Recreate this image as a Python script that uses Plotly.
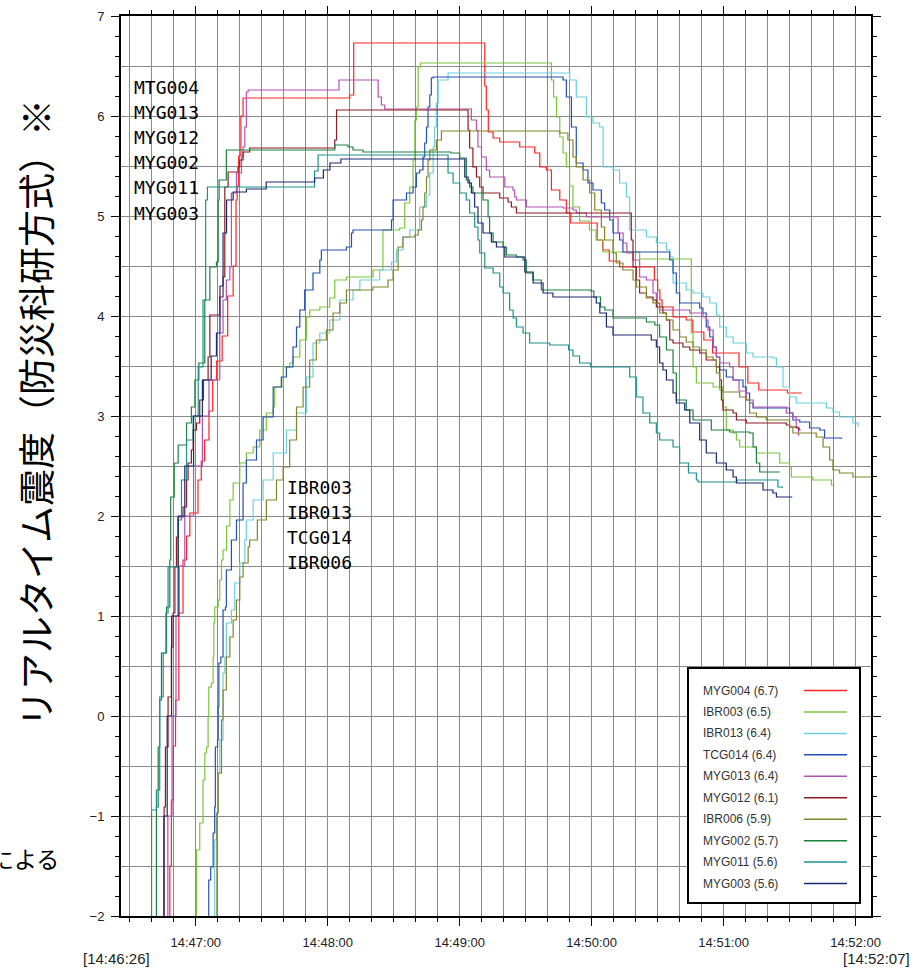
import plotly.graph_objects as go

# ---- data: (seconds after 14:46:00, real-time intensity) ----
MYG004 = [(47.4,-2.6),(48.2,-1.5),(48.9,-0.84),(49.8,-0.3),(50.8,0.16),(52.3,1.03),(54.2,1.56),(55.8,1.8),
          (57.3,2.03),(61.0,2.36),(62.5,2.55),(64.0,2.76),(66.0,3.05),(67.7,3.36),(69.5,3.55),(72.0,3.8),
          (74.5,4.2),(77.0,4.5),(78.3,5.16),(78.8,5.3),(79.5,5.6),(80.5,6.0),(81.5,6.18),(130.0,6.21),
          (131.8,6.73),(191.4,6.3),(192.1,6.06),(193.0,5.84),(195.2,5.78),(198.2,5.74),(207.3,5.69),
          (214.1,5.63),(216.4,5.49),(219.4,5.46),(221.7,5.26),(225.5,5.16),(228.5,5.03),(230.5,4.93),
          (242.5,4.76),(245.0,4.66),(248.0,4.55),(252.7,4.49),(268.5,4.36),(270.0,4.26),(271.0,4.16),
          (272.0,4.09),(277.0,3.99),(283.0,3.96),(286.0,3.84),(291.0,3.76),(295.0,3.63),(307.0,3.49),
          (311.0,3.33),(316.0,3.26),(329.0,3.23),(335.5,3.23)]
IBR003 = [(59.6,-2.6),(60.3,-1.34),(61.8,-1.07),(63.3,-0.64),(64.1,-0.37),(64.9,-0.31),(65.6,-0.01),
          (65.9,0.29),(67.1,0.33),(67.9,0.59),(68.2,0.93),(68.6,1.09),(70.2,1.16),(70.9,1.36),(71.7,1.56),
          (72.4,1.66),(74.0,1.9),(75.5,2.16),(77.0,2.33),(80.0,2.53),(83.0,2.63),(86.1,2.69),(89.1,2.86),
          (92.1,3.03),(95.2,3.09),(95.9,3.29),(99.7,3.49),(102.7,3.53),(104.2,3.59),(107.3,3.76),
          (110.3,3.99),(111.8,4.06),(116.4,4.09),(120.9,4.18),(123.2,4.36),(128.5,4.39),(140.6,4.46),
          (145.1,4.86),(152.7,4.88),(155.0,5.13),(157.3,5.29),(158.8,5.56),(159.6,5.96),(160.3,6.09),
          (161.1,6.49),(162.1,6.53),(221.7,6.36),(222.7,6.19),(224.0,5.99),(225.5,5.79),(227.0,5.63),
          (228.5,5.49),(230.0,5.3),(231.5,5.09),(234.5,4.95),(239.0,4.86),(242.0,4.76),(245.2,4.64),
          (261.8,4.57),(285.3,3.83),(286.1,3.49),(287.6,3.33),(295.2,3.29),(298.2,3.26),(299.7,3.09),
          (301.2,2.86),(304.3,2.83),(305.8,2.76),(307.3,2.69),(314.9,2.63),(325.5,2.53),(330.0,2.49),
          (330.8,2.39),(340.6,2.36),(349.0,2.31),(349.7,2.31)]
IBR013 = [(67.1,-2.6),(68.6,-1.24),(69.4,-0.97),(70.2,-0.57),(70.9,-0.24),(72.4,0.43),(73.2,0.59),
          (73.9,0.93),(76.2,1.06),(77.7,1.33),(80.0,1.53),(82.3,1.76),(83.0,1.96),(86.1,2.16),(90.6,2.36),
          (95.2,2.63),(101.2,2.86),(105.8,3.03),(110.3,3.39),(113.3,3.73),(116.4,3.83),(120.9,3.96),
          (125.5,4.16),(131.5,4.26),(134.6,4.36),(143.6,4.46),(149.0,4.54),(151.2,4.66),(154.2,4.79),
          (157.3,4.86),(161.8,5.09),(164.9,5.21),(166.4,5.43),(167.9,5.69),(168.6,5.89),(169.4,6.13),
          (170.2,6.36),(174.7,6.43),(230.0,6.36),(233.0,6.19),(237.6,5.99),(240.6,5.93),(243.6,5.89),
          (245.2,5.49),(249.7,5.46),(252.7,5.33),(255.8,5.19),(257.3,4.86),(264.9,4.79),(269.4,4.73),
          (274.0,4.66),(275.5,4.59),(277.0,4.33),(283.0,4.26),(286.1,4.23),(290.6,4.19),(293.7,4.13),
          (296.7,4.01),(298.2,3.89),(301.2,3.79),(304.3,3.73),(310.3,3.63),(313.4,3.59),(322.4,3.58),
          (324.0,3.49),(327.0,3.29),(330.0,3.19),(333.0,3.13),(346.7,3.08),(349.7,3.04),(352.7,2.99),
          (358.8,2.93),(361.1,2.9),(361.5,2.9)]
TCG014 = [(65.3,-2.6),(65.9,-1.64),(66.8,-1.51),(67.9,-1.17),(68.6,-0.91),(68.9,-0.31),(69.9,-0.24),
          (70.2,0.09),(70.5,0.53),(71.4,0.59),(72.4,1.06),(73.5,1.09),(73.9,1.46),(76.2,1.76),(78.5,1.96),
          (81.5,2.33),(83.0,2.56),(87.6,2.76),(90.6,2.99),(95.2,3.29),(98.9,3.39),(101.2,3.49),
          (104.2,3.69),(105.8,3.89),(107.3,4.06),(109.5,4.26),(113.3,4.43),(116.4,4.56),(117.1,4.66),
          (128.5,4.69),(130.8,4.83),(131.5,4.86),(149.0,4.96),(149.7,5.16),(155.8,5.23),(158.8,5.29),
          (160.3,5.43),(161.8,5.46),(163.3,5.59),(164.1,5.73),(164.9,5.89),(165.6,6.09),(166.4,6.21),
          (167.1,6.38),(167.9,6.39),(227.0,6.36),(228.5,6.19),(230.8,5.89),(233.0,5.53),(236.1,5.46),
          (238.3,5.33),(240.6,5.26),(244.4,5.13),(245.9,5.06),(248.2,4.96),(249.7,4.83),(252.7,4.76),
          (254.2,4.64),(275.5,4.56),(277.0,4.43),(278.5,4.23),(280.0,4.13),(289.1,4.08),(290.6,4.03),
          (292.1,3.89),(293.7,3.79),(295.2,3.69),(296.7,3.59),(298.2,3.46),(301.2,3.39),(304.3,3.36),
          (308.8,3.29),(310.3,3.23),(311.8,3.13),(313.4,3.08),(330.0,3.03),(331.5,2.96),(334.6,2.94),
          (339.1,2.88),(343.7,2.86),(345.9,2.78),(353.5,2.77)]
MYG013 = [(46.0,-2.6),(47.3,-1.0),(49.2,0.0),(51.0,1.0),(52.5,1.5),(55.0,2.0),(59.0,2.5),(63.0,3.0),
          (66.0,3.36),(70.9,3.83),(72.4,4.16),(73.9,4.36),(75.5,4.49),(76.2,5.23),(78.5,5.43),(80.8,5.59),
          (81.5,5.69),(82.3,5.89),(83.0,6.24),(83.8,6.26),(125.1,6.36),(142.9,6.19),(144.4,6.11),
          (145.9,6.07),(185.3,5.96),(187.6,5.86),(188.3,5.69),(189.9,5.59),(192.1,5.46),(193.6,5.39),
          (200.5,5.29),(204.2,5.26),(205.0,5.19),(205.8,5.16),(210.3,5.09),(227.0,5.08),(231.5,5.06),
          (233.0,5.03),(237.6,4.99),(252.0,4.83),(254.3,4.73),(256.0,4.63),(258.8,4.56),(261.8,4.39),
          (264.9,4.36),(267.9,4.23),(269.4,4.13),(270.9,4.06),(284.6,4.03),(290.6,3.99),(292.1,3.96),
          (292.9,3.86),(295.2,3.69),(296.7,3.59),(298.2,3.53),(302.7,3.49),(304.3,3.36),(307.0,3.25),
          (310.3,3.16),(313.4,3.09),(328.5,3.03),(331.5,2.99),(333.0,2.89),(334.0,2.81),(334.6,2.81)]
MYG012 = [(45.2,-2.6),(45.6,-0.91),(46.2,-0.31),(47.4,0.19),(48.9,0.69),(49.7,1.03),(50.5,1.49),
          (51.2,1.79),(52.0,1.99),(54.2,2.09),(55.8,2.36),(56.5,2.53),(58.0,2.66),(58.8,2.86),(60.3,2.93),
          (61.8,3.16),(63.5,3.36),(65.6,3.59),(66.4,4.01),(70.9,4.19),(72.4,4.39),(73.2,5.29),(74.7,5.44),
          (79.2,5.49),(80.0,5.56),(81.5,5.64),(84.5,5.68),(123.2,5.76),(124.0,6.06),(183.8,5.86),
          (184.5,5.68),(186.0,5.49),(187.6,5.39),(189.1,5.29),(190.6,5.23),(198.2,5.18),(202.0,5.14),
          (203.5,5.09),(205.8,5.03),(258.0,4.76),(258.8,4.49),(260.3,4.36),(261.8,4.23),(264.9,4.19),
          (267.9,4.16),(269.4,4.09),(272.4,4.03),(274.0,3.96),(275.5,3.76),(277.0,3.73),(281.5,3.69),
          (284.6,3.66),(289.1,3.63),(292.1,3.56),(296.7,3.49),(298.2,3.36),(299.0,3.16),(299.7,3.06),
          (304.3,3.03),(305.8,2.96),(310.3,2.93),(328.5,2.91),(330.0,2.89),(333.0,2.88),(334.3,2.86),
          (335.0,2.86)]
IBR006 = [(69.3,-2.6),(69.6,-0.97),(70.2,-0.57),(71.7,-0.04),(72.4,0.26),(73.9,0.59),(75.5,0.79),
          (77.0,0.96),(78.5,1.16),(80.0,1.39),(81.5,1.53),(83.8,1.69),(84.5,1.76),(88.0,1.96),(92.1,2.16),
          (96.7,2.36),(99.7,2.49),(102.7,2.76),(105.8,3.09),(108.8,3.29),(111.8,3.56),(114.8,3.76),
          (119.4,3.86),(122.4,4.03),(125.5,4.13),(128.5,4.26),(140.6,4.29),(147.4,4.36),(149.7,4.46),
          (152.0,4.69),(154.2,4.79),(159.6,4.81),(161.1,4.86),(162.6,4.96),(163.3,5.09),(164.1,5.23),
          (164.9,5.39),(165.6,5.56),(166.4,5.66),(169.4,5.76),(171.7,5.85),(225.5,5.83),(229.2,5.76),
          (231.5,5.59),(233.0,5.49),(236.1,5.36),(239.1,5.23),(241.4,5.06),(244.4,4.89),(245.9,4.76),
          (249.7,4.63),(251.2,4.53),(254.2,4.46),(258.8,4.36),(260.3,4.29),(264.9,4.18),(267.9,4.13),
          (270.9,4.03),(274.0,3.96),(277.0,3.86),(280.0,3.79),(283.0,3.74),(286.1,3.69),(289.1,3.66),
          (292.1,3.59),(295.2,3.56),(296.7,3.43),(298.2,3.29),(299.7,3.24),(307.3,3.19),(310.3,3.16),
          (311.8,3.03),(314.9,2.99),(319.4,2.96),(330.0,2.89),(331.5,2.83),(342.1,2.79),(345.2,2.69),
          (348.2,2.56),(349.7,2.46),(352.7,2.43),(358.8,2.39),(370.0,2.36)]
MYG002 = [(41.0,-2.6),(42.1,-0.91),(42.9,-0.31),(43.6,0.16),(44.4,0.63),(46.7,1.09),(48.2,1.56),
          (48.6,2.19),(50.2,2.53),(52.0,2.71),(55.8,2.93),(58.0,3.09),(59.6,3.36),(61.4,3.53),(64.1,4.16),
          (66.4,4.49),(69.4,4.54),(70.2,5.16),(70.6,5.36),(73.9,5.66),(123.2,5.71),(129.2,5.69),
          (131.5,5.66),(136.0,5.64),(176.0,5.63),(180.0,5.58),(183.0,5.36),(184.5,5.29),(186.0,5.23),
          (190.6,5.16),(192.9,4.99),(193.6,4.83),(195.2,4.74),(199.7,4.69),(201.2,4.61),(205.8,4.59),
          (208.8,4.56),(210.3,4.43),(213.3,4.36),(217.1,4.26),(239.5,4.25),(241.0,4.19),(244.0,4.09),
          (246.0,4.06),(249.7,3.98),(264.9,3.94),(268.7,3.91),(270.9,3.79),(274.0,3.66),(277.0,3.43),
          (278.5,3.16),(283.0,3.06),(286.1,2.96),(294.4,2.86),(302.7,2.84),(311.8,2.83),(313.4,2.69),
          (314.9,2.53),(316.4,2.44),(325.5,2.44)]
MYG011 = [(39.5,-2.6),(39.9,-0.94),(42.1,-0.74),(43.6,0.19),(45.2,0.63),(46.4,1.03),(47.4,1.49),
          (52.0,1.96),(53.5,2.36),(55.8,2.76),(58.8,3.0),(61.1,3.49),(63.3,4.16),(64.5,5.16),(65.3,5.29),
          (114.0,5.45),(115.6,5.61),(174.7,5.43),(177.0,5.33),(180.0,5.23),(183.0,5.16),(184.5,5.03),
          (186.8,4.89),(188.3,4.76),(189.1,4.63),(191.4,4.48),(195.2,4.43),(198.2,4.29),(199.7,4.23),
          (202.7,4.06),(204.3,3.98),(205.8,3.89),(208.8,3.83),(211.8,3.73),(220.9,3.71),(229.5,3.66),
          (231.5,3.6),(234.5,3.53),(239.5,3.49),(257.3,3.39),(260.3,3.19),(263.3,3.03),(266.4,2.93),
          (269.4,2.83),(270.9,2.76),(277.0,2.69),(280.0,2.53),(284.0,2.43),(287.6,2.36),(288.4,2.34),
          (306.0,2.36),(324.7,2.29),(326.7,2.28)]
MYG003 = [(44.0,-2.6),(45.5,-1.0),(47.0,0.0),(49.0,1.0),(52.0,2.0),(55.0,2.5),(59.0,3.0),(63.0,3.36),
          (67.0,3.6),(69.4,3.83),(71.0,4.3),(72.4,4.83),(74.0,5.16),(77.0,5.24),(83.0,5.27),(92.0,5.34),
          (114.0,5.38),(118.0,5.46),(121.0,5.53),(126.0,5.57),(182.3,5.39),(183.8,5.33),(185.3,5.23),
          (186.8,5.09),(188.3,4.93),(190.6,4.83),(194.4,4.74),(196.7,4.69),(200.5,4.59),(209.6,4.44),
          (213.4,4.33),(217.9,4.23),(222.4,4.19),(242.1,4.13),(243.7,4.03),(246.7,3.89),(249.7,3.81),
          (267.1,3.76),(269.4,3.69),(270.9,3.53),(272.4,3.46),(274.0,3.36),(277.0,3.23),(278.5,3.13),
          (282.3,3.06),(284.6,2.93),(289.1,2.76),(292.1,2.63),(296.7,2.53),(301.2,2.46),(304.3,2.39),
          (305.8,2.33),(317.9,2.26),(322.4,2.23),(324.0,2.19),(331.2,2.19)]

NAMES = ["MYG004", "IBR003", "IBR013", "TCG014", "MYG013", "MYG012", "IBR006", "MYG002", "MYG011", "MYG003"]
PEAKS = [6.7, 6.5, 6.4, 6.4, 6.4, 6.1, 5.9, 5.7, 5.6, 5.6]
SERIES = [MYG004, IBR003, IBR013, TCG014, MYG013, MYG012, IBR006, MYG002, MYG011, MYG003]
COLORS = ["#ff2424", "#7cc63c", "#6ccfe0", "#2450b4", "#b452b4", "#8e1c24",
          "#84842a", "#1c8240", "#1c9290", "#1c2a70"]

TICK_SECONDS = [60, 120, 180, 240, 300, 360]
TICK_TEXT = ["14:47:00", "14:48:00", "14:49:00", "14:50:00", "14:51:00", "14:52:00"]
X_RANGE = [26, 367]
START_LABEL = "[14:46:26]"
END_LABEL = "[14:52:07]"

LEFT_LABELS = ["MTG004", "MYG013", "MYG012", "MYG002", "MYG011", "MYG003"]
RIGHT_LABELS = ["IBR003", "IBR013", "TCG014", "IBR006"]
Y_TITLE = "リアルタイム震度（防災科研方式）※"

W, H = 917, 968
ML, MR, MT, MB = 121, 46, 16, 52
PW, PH = W - ML - MR, H - MT - MB


def px_x(px):
    return (px - ML) / PW


def px_y(py):
    return 1 - (py - MT) / PH


fig = go.Figure()
for name, data, col in zip(NAMES, SERIES, COLORS):
    fig.add_trace(go.Scatter(
        x=[p[0] for p in data], y=[p[1] for p in data], mode="lines",
        line=dict(color=col, width=1.2, shape="hv"), name=name, showlegend=False,
        cliponaxis=True))

# overlay axis that only provides the half-step horizontal grid lines
fig.add_trace(go.Scatter(x=[None], y=[None], yaxis="y2", showlegend=False, hoverinfo="skip"))

GRID = "#8a8a8a"
tickfont = dict(family="Liberation Sans, Arial", size=13, color="#222")

fig.update_layout(
    width=W, height=H, margin=dict(l=ML, r=MR, t=MT, b=MB, autoexpand=False),
    paper_bgcolor="white", plot_bgcolor="white", showlegend=False,
    xaxis=dict(range=X_RANGE, tickvals=TICK_SECONDS, ticktext=TICK_TEXT, ticks="outside",
               ticklen=8, tickwidth=1, tickcolor="black", showgrid=True, gridcolor=GRID,
               gridwidth=1, showline=True, linecolor="black", linewidth=2, mirror="ticks",
               zeroline=False, tickfont=tickfont, ticklabelstandoff=5,
               minor=dict(dtick=10, tick0=0, ticks="outside", ticklen=4, tickcolor="black",
                          showgrid=True, gridcolor=GRID, gridwidth=1)),
    yaxis=dict(range=[-2, 7], dtick=1, tick0=0, ticks="outside", ticklen=8, tickwidth=1,
               tickcolor="black", showgrid=True, gridcolor=GRID, gridwidth=1, showline=True,
               linecolor="black", linewidth=2, mirror="ticks", zeroline=False, tickfont=tickfont,
               ticklabelstandoff=4,
               minor=dict(dtick=0.2, tick0=0, ticks="outside", ticklen=4, tickcolor="black",
                          showgrid=False)),
    yaxis2=dict(range=[-2, 7], overlaying="y", side="left", dtick=1, tick0=0.5, showgrid=True,
                gridcolor=GRID, gridwidth=1, showticklabels=False, ticks="", showline=False,
                zeroline=False),
)

anns = []
# station labels in the plot
for i, lab in enumerate(LEFT_LABELS):
    anns.append(dict(x=30.8, y=6.29 - 0.252 * i, xref="x", yref="y", text=lab, showarrow=False,
                     xanchor="left", yanchor="middle",
                     font=dict(family="DejaVu Sans Mono", size=18, color="black")))
for i, lab in enumerate(RIGHT_LABELS):
    anns.append(dict(x=100.6, y=2.29 - 0.25 * i, xref="x", yref="y", text=lab, showarrow=False,
                     xanchor="left", yanchor="middle",
                     font=dict(family="DejaVu Sans Mono", size=18, color="black")))

# y title
anns.append(dict(x=px_x(35), y=px_y(413), xref="paper", yref="paper", text=Y_TITLE,
                 textangle=-90, showarrow=False, xanchor="center", yanchor="middle",
                 font=dict(family="Noto Sans CJK JP", size=37, color="black")))
anns.append(dict(x=px_x(61), y=px_y(858), xref="paper", yref="paper", text="による",
                 showarrow=False, xanchor="right", yanchor="middle",
                 font=dict(family="Noto Sans CJK JP", size=23, color="black")))
# start / end time labels
anns.append(dict(x=0, y=px_y(959), xref="paper", yref="paper", text=START_LABEL, showarrow=False,
                 xanchor="center", yanchor="middle", xshift=-5,
                 font=dict(family="Liberation Sans, Arial", size=15, color="#222")))
anns.append(dict(x=1, y=px_y(959), xref="paper", yref="paper", text=END_LABEL, showarrow=False,
                 xanchor="center", yanchor="middle", xshift=5,
                 font=dict(family="Liberation Sans, Arial", size=15, color="#222")))

# custom legend: text on the left, line sample on the right
shapes = [dict(type="rect", xref="paper", yref="paper", x0=px_x(688), x1=px_x(860),
               y0=px_y(903), y1=px_y(668), line=dict(color="black", width=2),
               fillcolor="white", layer="above")]
ROW0, ROWSTEP = 690.5, 21.45
for i, (name, pk, col) in enumerate(zip(NAMES, PEAKS, COLORS)):
    yy = px_y(ROW0 + ROWSTEP * i)
    anns.append(dict(x=px_x(701), y=yy, xref="paper", yref="paper", text=f"{name} ({pk})",
                     showarrow=False, xanchor="left", yanchor="middle",
                     font=dict(family="Liberation Sans, Arial", size=12, color="#333")))
    shapes.append(dict(type="line", xref="paper", yref="paper", x0=px_x(804), x1=px_x(847),
                       y0=yy, y1=yy, line=dict(color=col, width=1.5), layer="above"))

fig.update_layout(annotations=anns, shapes=shapes)
fig.write_html("out.html", config={"displayModeBar": False},
               post_script="document.body.style.margin='0px';document.body.style.overflow='hidden';")
